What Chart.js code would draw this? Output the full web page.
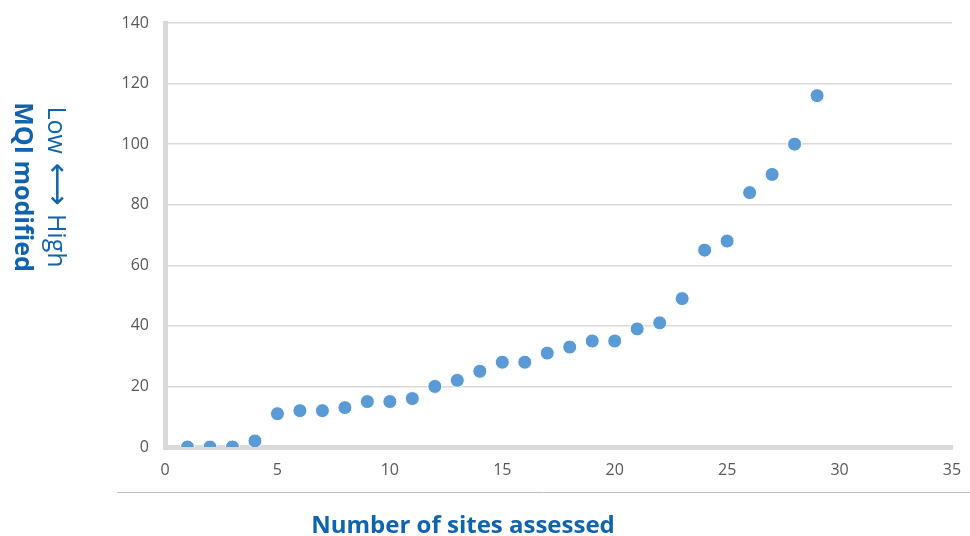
<!DOCTYPE html>
<html>
<head>
<meta charset="utf-8">
<script src="https://cdn.jsdelivr.net/npm/chart.js@4/dist/chart.umd.min.js"></script>
<style>
  html, body { margin: 0; padding: 0; background: #fff; }
  #wrap { position: relative; width: 970px; height: 536px; overflow: hidden; }
  #grafica { position: absolute; left: 0; top: 0; }
  .titulo { position: absolute; color: #1063ae; font-family: 'Open Sans', sans-serif; white-space: nowrap; line-height: 1; }
  #titulo-x { left: 463px; top: 512px; transform: translateX(-50%); font-size: 24px; font-weight: bold; }
  .titulo-y { top: 187px; transform: translate(-50%, -50%) rotate(90deg); }
  #titulo-y1 { left: 24px; font-size: 25px; font-weight: bold; }
  #titulo-y2 { left: 58px; font-size: 25px; }
  .flecha { font-family: 'DejaVu Sans', sans-serif; font-size: 30px; margin: 0 2px; }
</style>
</head>
<body>
<div id="wrap">
  <canvas id="grafica" width="970" height="536"></canvas>
  <div class="titulo titulo-y" id="titulo-y1">MQI modified</div>
  <div class="titulo titulo-y" id="titulo-y2">Low <span class="flecha">⟷</span> High</div>
  <div class="titulo" id="titulo-x">Number of sites assessed</div>
</div>
<script>
// Datos
const sitios = [1, 2, 3, 4, 5, 6, 7, 8, 9, 10, 11, 12, 13, 14, 15, 16, 17, 18, 19, 20, 21, 22, 23, 24, 25, 26, 27, 28, 29];
const mqi = [0, 0, 0, 2, 11, 12, 12, 13, 15, 15, 16, 20, 22, 25, 28, 28, 31, 33, 35, 35, 39, 41, 49, 65, 68, 84, 90, 100, 116];
const ticksX = [0, 5, 10, 15, 20, 25, 30, 35];
const ticksY = [0, 20, 40, 60, 80, 100, 120, 140];

const GRIS_EJE = '#d9d9d9';
const GRIS_TEXTO = '#595959';

// Línea fina bajo las etiquetas del eje X
const lineaInferior = {
  id: 'lineaInferior',
  afterDraw(chart) {
    const ctx = chart.ctx;
    ctx.save();
    ctx.strokeStyle = '#bfbfbf';
    ctx.lineWidth = 1;
    ctx.beginPath();
    ctx.moveTo(117, 492.5);
    ctx.lineTo(970, 492.5);
    ctx.stroke();
    ctx.restore();
  },
};

// Las marcas de los ejes son invisibles: solo separan las etiquetas del eje
// (así ticks.padding no agranda el margen derecho del área)
new Chart(document.querySelector('#grafica'), {
  type: 'scatter',
  data: {
    datasets: [{
      data: sitios.map((x, i) => ({ x, y: mqi[i] })),
      backgroundColor: '#5b9bd5',
      borderColor: '#ffffff',
      borderWidth: 1,
      pointRadius: 7,
    }],
  },
  options: {
    responsive: false,
    animation: false,
    layout: { autoPadding: false, padding: { left: 0, right: 18, top: 23, bottom: 0 } },
    plugins: { legend: { display: false }, tooltip: { enabled: false } },
    scales: {
      x: {
        type: 'linear',
        min: 0,
        max: 35,
        afterBuildTicks: (s) => { s.ticks = ticksX.map((v) => ({ value: v })); },
        afterFit: (s) => { s.height = 536 - 447; },
        grid: { color: 'transparent', tickColor: 'transparent', tickLength: 14 },
        border: { color: GRIS_EJE, width: 5 },
        ticks: { color: GRIS_TEXTO, padding: 0, font: { family: 'Open Sans', size: 16 } },
      },
      y: {
        min: 0,
        max: 140,
        afterBuildTicks: (s) => { s.ticks = ticksY.map((v) => ({ value: v })); },
        afterFit: (s) => { s.width = 165; },
        grid: { color: GRIS_EJE, lineWidth: 1.5, tickColor: 'transparent', tickLength: 16 },
        border: { color: GRIS_EJE, width: 5 },
        ticks: { color: GRIS_TEXTO, padding: 0, font: { family: 'Open Sans', size: 16 } },
      },
    },
  },
  plugins: [lineaInferior],
});
</script>
</body>
</html>
